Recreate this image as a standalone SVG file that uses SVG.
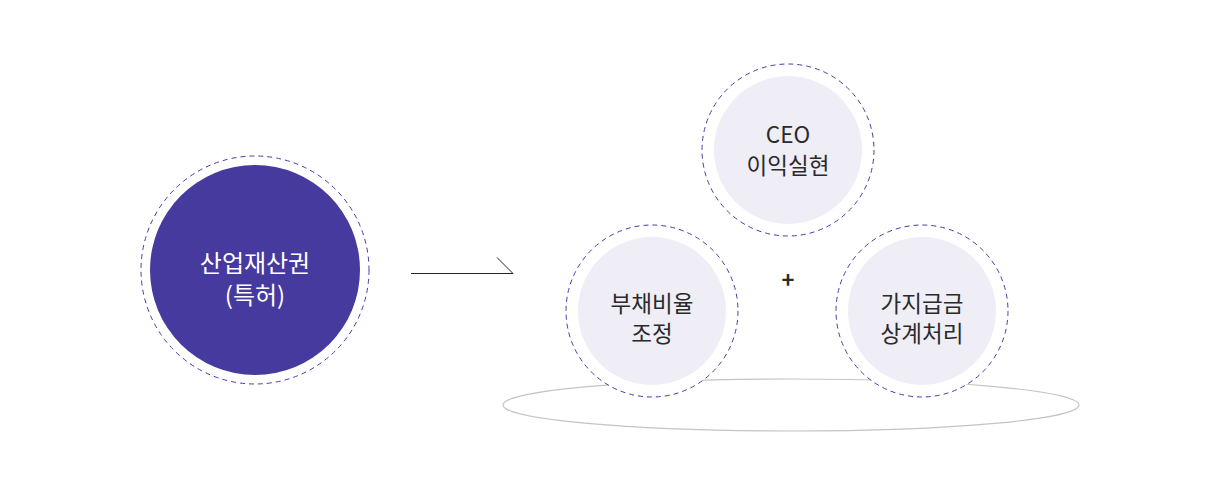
<svg xmlns="http://www.w3.org/2000/svg" width="1220" height="500" viewBox="0 0 1220 500">
<style>
.ring{fill:#fff;stroke:#4b3ba6;stroke-width:1;stroke-dasharray:5 4}
.inner{fill:#efeef7}
.t{font-family:"Noto Sans CJK KR","Noto Sans",sans-serif;font-size:22.5px;fill:#2a2a2a;text-anchor:middle}
.w{fill:#fff;font-size:24px}
</style>
<rect width="1220" height="500" fill="#fff"/>
<ellipse cx="791" cy="405" rx="288" ry="26" fill="#fff" stroke="#c4c4c4" stroke-width="1.2"/>
<g id="connectors">
<path d="M411 273.5H513L497 257.5" fill="none" stroke="#222" stroke-width="1"/>
<text x="788" y="288" class="t" style="font-size:22px;font-weight:bold">+</text>
</g>
<g id="node-main">
<circle cx="255" cy="270" r="114" class="ring"/>
<circle cx="255" cy="270" r="105" fill="#473a9e"/>
<text x="255" y="272" class="t w">산업재산권</text>
<text x="255" y="304" class="t w">(특허)</text>
</g>
<g id="node-ceo">
<circle cx="788" cy="150" r="86" class="ring"/>
<circle cx="788" cy="150" r="74" class="inner"/>
<text x="788" y="143" class="t">CEO</text>
<text x="788" y="174" class="t">이익실현</text>
</g>
<g id="node-debt">
<circle cx="652" cy="311" r="86" class="ring"/>
<circle cx="652" cy="311" r="74" class="inner"/>
<text x="652" y="312" class="t">부채비율</text>
<text x="652" y="342" class="t">조정</text>
</g>
<g id="node-offset">
<circle cx="922" cy="311" r="86" class="ring"/>
<circle cx="922" cy="311" r="74" class="inner"/>
<text x="922" y="312" class="t">가지급금</text>
<text x="922" y="342" class="t">상계처리</text>
</g>
</svg>
